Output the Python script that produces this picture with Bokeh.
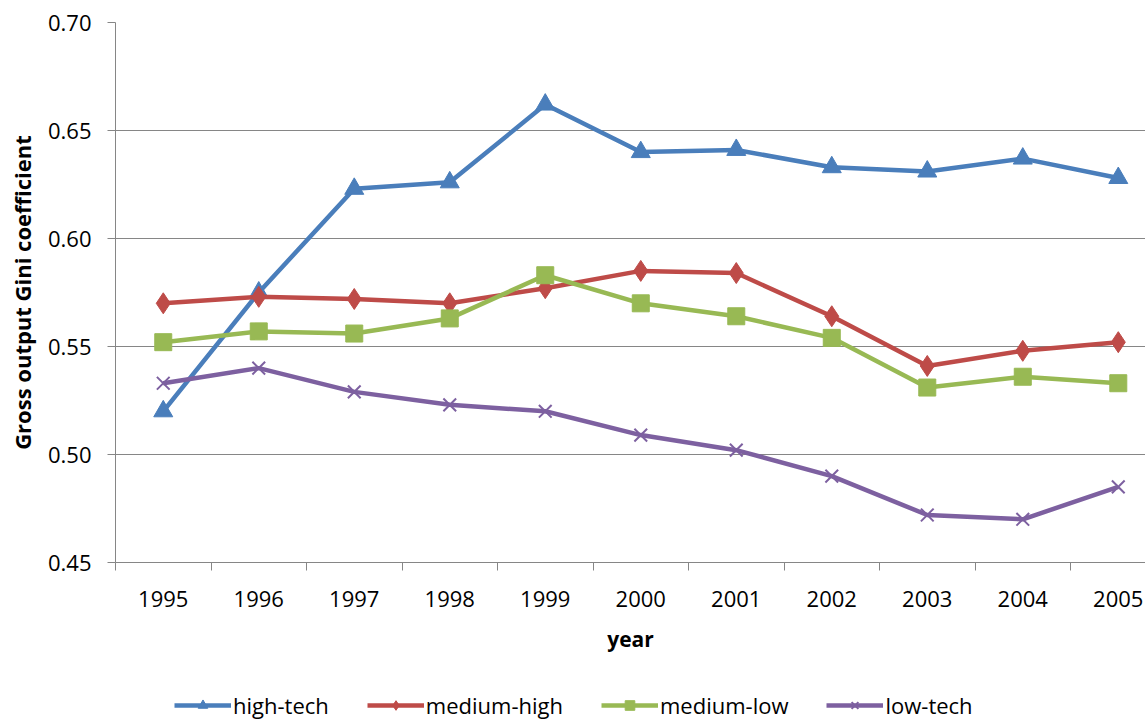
from bokeh.plotting import figure
from bokeh.models import Range1d, FixedTicker, Legend, LegendItem
from bokeh.layouts import column
from bokeh.embed import file_html
from bokeh.resources import INLINE

years = ["1995", "1996", "1997", "1998", "1999", "2000", "2001", "2002", "2003", "2004", "2005"]
high_tech = [0.520, 0.575, 0.623, 0.626, 0.662, 0.640, 0.641, 0.633, 0.631, 0.637, 0.628]
medium_high = [0.570, 0.573, 0.572, 0.570, 0.577, 0.585, 0.584, 0.564, 0.541, 0.548, 0.552]
medium_low = [0.552, 0.557, 0.556, 0.563, 0.583, 0.570, 0.564, 0.554, 0.531, 0.536, 0.533]
low_tech = [0.533, 0.540, 0.529, 0.523, 0.520, 0.509, 0.502, 0.490, 0.472, 0.470, 0.485]
y_ticks = [0.45, 0.50, 0.55, 0.60, 0.65, 0.70]

FONT = "Open Sans"
xs = list(range(len(years)))

p = figure(frame_width=1030, frame_height=540, output_backend="svg", toolbar_location=None,
           x_range=Range1d(-0.5, 10.285), y_range=Range1d(0.45, 0.70),
           min_border_left=115, min_border_right=0, min_border_top=22, min_border_bottom=0)
p.outline_line_color = None
p.background_fill_color = "white"
p.border_fill_color = "white"

p.xgrid.grid_line_color = None
p.ygrid.grid_line_color = "#868686"
p.ygrid.ticker = FixedTicker(ticks=y_ticks)

xa = p.xaxis[0]
xa.ticker = FixedTicker(ticks=xs, minor_ticks=[i - 0.5 for i in range(len(years) + 1)])
xa.major_label_overrides = {i: y for i, y in enumerate(years)}
xa.major_tick_line_color = None
xa.major_tick_out = 0
xa.major_tick_in = 0
xa.minor_tick_line_color = "#868686"
xa.minor_tick_out = 8
xa.minor_tick_in = 0
xa.axis_line_color = "#868686"
xa.major_label_standoff = 20
xa.major_label_text_font = FONT
xa.major_label_text_font_size = "22px"
xa.major_label_text_color = "black"
xa.axis_label = "year"
xa.axis_label_text_font = FONT
xa.axis_label_text_font_size = "21px"
xa.axis_label_text_font_style = "bold"
xa.axis_label_text_color = "black"
xa.axis_label_standoff = 15

ya = p.yaxis[0]
ya.ticker = FixedTicker(ticks=y_ticks)
ya.minor_tick_line_color = None
ya.major_label_overrides = {t: f"{t:.2f}" for t in y_ticks}
ya.major_tick_line_color = "#868686"
ya.major_tick_out = 8
ya.major_tick_in = 0
ya.axis_line_color = "#868686"
ya.major_label_standoff = 16
ya.major_label_text_font = FONT
ya.major_label_text_font_size = "22px"
ya.major_label_text_color = "black"
ya.axis_label = "Gross output Gini coefficient"
ya.axis_label_text_font = FONT
ya.axis_label_text_font_size = "22px"
ya.axis_label_text_font_style = "bold"
ya.axis_label_text_color = "black"
ya.axis_label_standoff = 8

# separate strip for the legend (frame covers the whole strip, so nothing clips it)
p2 = figure(width=1145, height=65, output_backend="svg", toolbar_location=None,
            x_axis_location=None, y_axis_location=None,
            x_range=Range1d(-100, -99), y_range=Range1d(0.45, 0.70),
            min_border=0, min_border_left=0, min_border_right=0, min_border_top=0, min_border_bottom=0)
p2.outline_line_color = None
p2.grid.visible = False
p2.background_fill_color = "white"
p2.border_fill_color = "white"

series = [
    ("high-tech", high_tech, "#4A7EBB", "triangle", 19),
    ("medium-high", medium_high, "#BE4B48", "diamond", 21),
    ("medium-low", medium_low, "#98B954", "square", 17),
    ("low-tech", low_tech, "#7D60A0", "x", 18),
]
items = []
for name, vals, col, mk, sz in series:
    rs = []
    for fig in (p, p2):
        l = fig.line(xs, vals, line_color=col, line_width=4.5)
        if mk == "x":
            s = fig.scatter(xs, vals, marker="x", size=sz, line_color=col, line_width=2)
        else:
            s = fig.scatter(xs, vals, marker=mk, size=sz, fill_color=col, line_color=col)
        rs.append((l, s))
    items.append(LegendItem(label=name, renderers=list(rs[1])))

legend = Legend(items=items, orientation="horizontal", location=(59, 0),
                label_text_font=FONT, label_text_font_size="22px", label_text_color="black",
                glyph_width=57, glyph_height=24, label_standoff=2, spacing=38,
                border_line_color=None, background_fill_alpha=0, padding=0, margin=0)
p2.add_layout(legend, "center")

layout = column(p, p2, spacing=0)
open("out.html", "w").write(file_html(layout, INLINE))
